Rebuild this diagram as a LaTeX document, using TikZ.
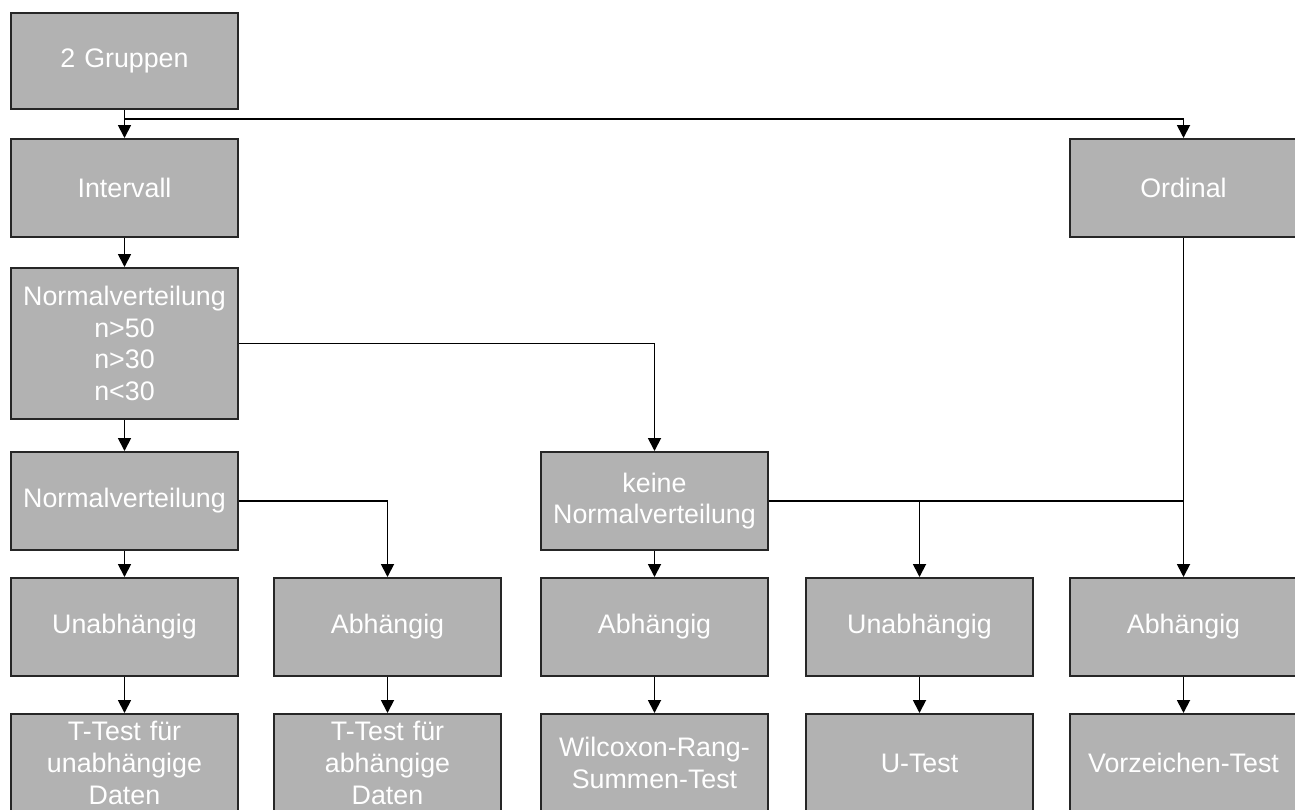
\documentclass[tikz,border=0pt]{standalone}
\usepackage{fontspec}
\setmainfont{Liberation Sans}
\usetikzlibrary{arrows.meta,positioning}

\begin{document}
\begin{tikzpicture}[
    blk/.style={draw=black!85, line width=1pt, fill=black!30, text=white,
                font=\fontsize{13.4}{15.8}\selectfont, text width=113.5pt,
                minimum height=49pt, inner sep=0pt, align=center},
    arr/.style={-{Triangle[length=6.5pt,width=6.5pt]}, line width=0.9pt}
  ]
  \useasboundingbox (0,0) rectangle (647.5pt,-404.5pt);
  \node[blk, minimum height=48pt, anchor=north west] (grp) at (5pt,-6pt) {2 Gruppen};
  \node[blk] (intv) [below=14pt of grp] {Intervall};
  \node[blk, minimum height=75.5pt] (nv1) [below=14.5pt of intv] {Normalverteilung\\n>50\\n>30\\n<30};
  \node[blk] (nv2) [below=15.5pt of nv1] {Normalverteilung};
  \node[blk] (unab1) [below=13pt of nv2] {Unabhängig};
  \node[blk] (abh1) [right=17pt of unab1] {Abhängig};
  \node[blk] (abh2) [right=19pt of abh1] {Abhängig};
  \node[blk] (unab2) [right=18pt of abh2] {Unabhängig};
  \node[blk] (abh3) [right=17.5pt of unab2] {Abhängig};
  \node[blk] (keine) [above=13pt of abh2] {keine\\Normalverteilung};
  \node[blk] (ord) at (abh3 |- intv) {Ordinal};
  \node[blk] (ttu) [below=18pt of unab1] {T-Test für\\unabhängige\\Daten};
  \node[blk] (tta) [below=18pt of abh1] {T-Test für\\abhängige\\Daten};
  \node[blk] (wil) [below=18pt of abh2] {Wilcoxon-Rang-\\Summen-Test};
  \node[blk] (ut) [below=18pt of unab2] {U-Test};
  \node[blk] (vzt) [below=18pt of abh3] {Vorzeichen-Test};

  \draw[arr] (grp) -- (intv);
  \draw[arr] (grp.south) -- ++(0,-4.5pt) -| (ord.north);
  \draw[arr] (intv) -- (nv1);
  \draw[arr] (nv1) -- (nv2);
  \draw[arr] (nv1.east) -| (keine.north);
  \draw[arr] (nv2) -- (unab1);
  \draw[arr] (nv2.east) -| (abh1.north);
  \draw[arr] (keine) -- (abh2);
  \draw[line width=0.9pt] (keine.east) -- (keine.east -| ord.south);
  \draw[arr] (keine.east) -| (unab2.north);
  \draw[arr] (ord) -- (abh3);
  \draw[arr] (unab1) -- (ttu);
  \draw[arr] (abh1) -- (tta);
  \draw[arr] (abh2) -- (wil);
  \draw[arr] (unab2) -- (ut);
  \draw[arr] (abh3) -- (vzt);
\end{tikzpicture}
\end{document}
